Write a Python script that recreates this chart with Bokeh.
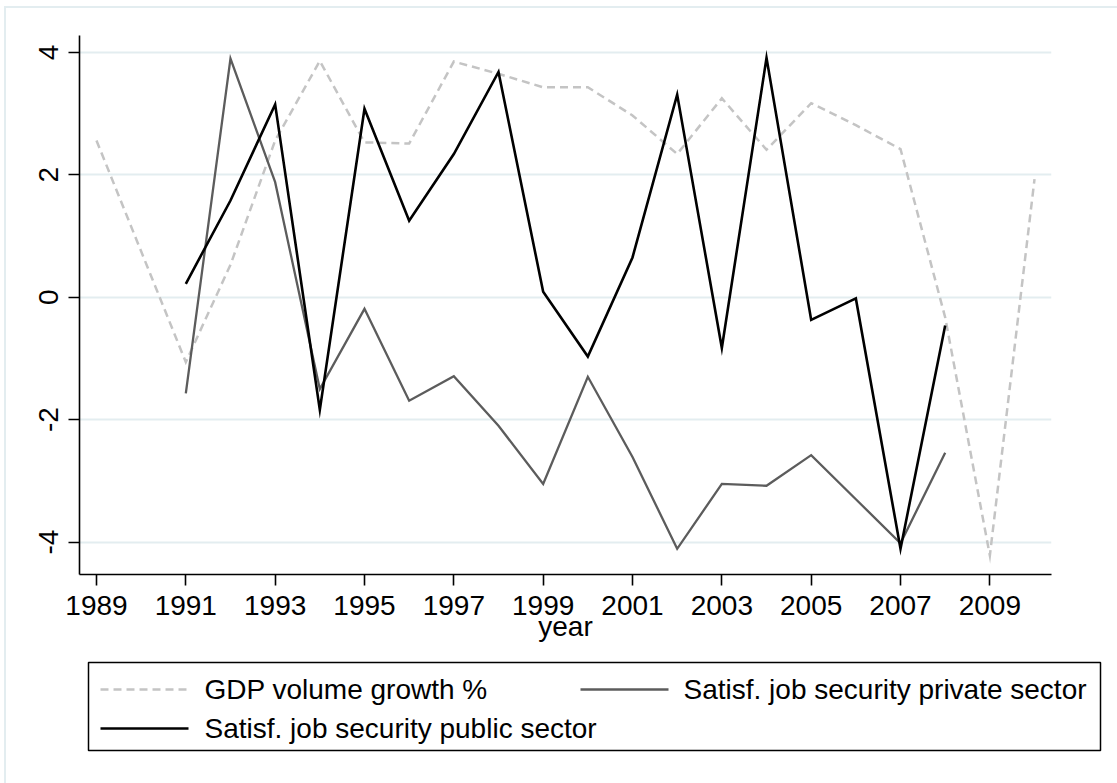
from bokeh.plotting import figure
from bokeh.layouts import column
from bokeh.models import Range1d, FixedTicker
from bokeh.core.properties import value
from bokeh.embed import file_html
from bokeh.resources import INLINE

# GDP growth (no value for 1990, the line joins 1989 to 1991)
years_gdp = [1989, 1991, 1992, 1993, 1994, 1995, 1996, 1997, 1998, 1999,
             2000, 2001, 2002, 2003, 2004, 2005, 2006, 2007, 2008, 2009, 2010]
gdp_growth = [2.56, -1.06, 0.53, 2.56, 3.86, 2.53, 2.51, 3.85, 3.65, 3.43,
              3.43, 2.97, 2.34, 3.25, 2.41, 3.17, 2.81, 2.42, -0.33, -4.22, 1.93]

# job security satisfaction, 1991-2008
years_sat = [1991, 1992, 1993, 1994, 1995, 1996, 1997, 1998, 1999,
             2000, 2001, 2002, 2003, 2004, 2005, 2006, 2007, 2008]
private_sector = [-1.57, 3.90, 1.88, -1.50, -0.19, -1.69, -1.29, -2.10, -3.05,
                  -1.30, -2.61, -4.11, -3.05, -3.08, -2.58, -3.30, -4.02, -2.54]
public_sector = [0.22, 1.58, 3.15, -1.84, 3.08, 1.25, 2.34, 3.68, 0.09,
                 -0.97, 0.65, 3.31, -0.83, 3.91, -0.37, -0.02, -4.11, -0.46]

x_ticks = [1989, 1991, 1993, 1995, 1997, 1999, 2001, 2003, 2005, 2007, 2009]
y_ticks = [-4, -2, 0, 2, 4]

legend_labels = ["GDP volume growth %",
                 "Satisf. job security private sector",
                 "Satisf. job security public sector"]

FONT = "Liberation Sans"
GDP_COLOR = "#c4c4c4"
PRIV_COLOR = "#5c5c5c"
PUB_COLOR = "#000000"
GRID_COLOR = "#e3edf0"
W = 1117
MAIN_H = 660
LEG_H = 783 - MAIN_H

# ---------------------------------------------------------------- main chart
p = figure(width=W, height=MAIN_H, output_backend="svg", toolbar_location=None,
           x_range=Range1d(1988.62, 2010.38), y_range=Range1d(-4.53, 4.276),
           min_border_left=79, min_border_right=66,
           min_border_top=35, min_border_bottom=MAIN_H - 574,
           frame_align=False)
p.outline_line_color = None
p.background_fill_color = "white"
p.border_fill_alpha = 0

for ax in (p.xaxis, p.yaxis):
    ax.minor_tick_line_color = None
    ax.major_tick_in = 0
    ax.major_tick_out = 11
    ax.axis_line_width = 1.6
    ax.axis_line_color = "black"
    ax.major_tick_line_width = 1.6
    ax.major_tick_line_color = "black"
    ax.major_label_text_font = FONT
    ax.major_label_text_font_size = "28px"
    ax.major_label_text_color = "black"

p.xaxis.ticker = FixedTicker(ticks=x_ticks)
p.xaxis.major_label_standoff = 10
p.xaxis.axis_label = "year"
p.xaxis.axis_label_text_font = FONT
p.xaxis.axis_label_text_font_size = "28px"
p.xaxis.axis_label_text_font_style = "normal"
p.xaxis.axis_label_text_color = "black"
p.xaxis.axis_label_standoff = -7

p.yaxis.ticker = FixedTicker(ticks=y_ticks)
p.yaxis.major_label_overrides = {t: str(t) for t in y_ticks}
p.yaxis.major_label_orientation = "vertical"
p.yaxis.major_label_standoff = 10

p.xgrid.grid_line_color = None
p.ygrid.grid_line_color = GRID_COLOR
p.ygrid.grid_line_width = 2

p.line(years_gdp, gdp_growth, line_color=GDP_COLOR, line_width=2.5,
       line_dash="8 5", line_join="miter")
p.line(years_sat, private_sector, line_color=PRIV_COLOR, line_width=2.3,
       line_join="miter")
p.line(years_sat, public_sector, line_color=PUB_COLOR, line_width=2.6,
       line_join="miter")

# ---------------------------------------------------------------- legend strip
# coordinates in this strip are page pixels (y grows downward)
leg = figure(width=W, height=LEG_H, output_backend="svg", toolbar_location=None,
             x_range=Range1d(0, W), y_range=Range1d(783, MAIN_H),
             x_axis_type=None, y_axis_type=None,
             min_border_left=0, min_border_right=0,
             min_border_top=0, min_border_bottom=0,
             frame_align=False)
leg.outline_line_color = None
leg.background_fill_alpha = 0
leg.border_fill_alpha = 0

leg.quad(left=[88], right=[1100], top=[662], bottom=[750],
         fill_alpha=0, line_color="black", line_width=1.5)

legend_keys = [
    (100, 188, 689, GDP_COLOR, 2.5, "8 5", 204, legend_labels[0]),
    (580, 668, 689, PRIV_COLOR, 2.3, "solid", 683, legend_labels[1]),
    (100, 188, 728, PUB_COLOR, 2.6, "solid", 204, legend_labels[2]),
]
for x0, x1, ly, col, lw, dash, tx, txt in legend_keys:
    leg.line([x0, x1], [ly, ly], line_color=col, line_width=lw, line_dash=dash)
    leg.text(x=[tx], y=[ly], text=[txt], text_font=value(FONT),
             text_font_size=value("28px"), text_color="black",
             text_align="left", text_baseline="middle")

# light frame of the whole graph region, painted behind both canvases
frame_bg = ("linear-gradient({c},{c}) 4px 6px / 2px 100% no-repeat, "
            "linear-gradient({c},{c}) 4px 6px / 100% 2px no-repeat, white").format(c=GRID_COLOR)
layout = column(p, leg, spacing=0, styles={"background": frame_bg})

open("out.html", "w").write(file_html(layout, INLINE))
